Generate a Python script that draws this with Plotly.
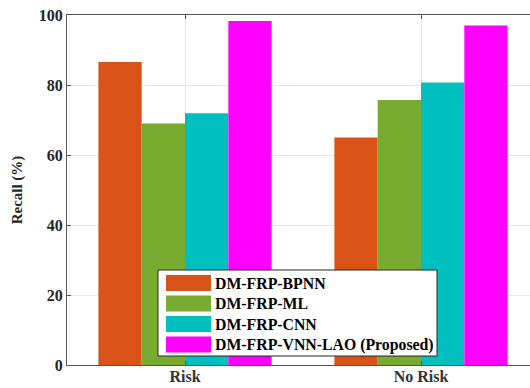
import plotly.graph_objects as go

categories = ["Risk", "No Risk"]
series_names = ["DM-FRP-BPNN", "DM-FRP-ML", "DM-FRP-CNN", "DM-FRP-VNN-LAO (Proposed)"]
bpnn = [86.6, 65.0]
ml = [69.0, 75.7]
cnn = [71.9, 80.7]
proposed = [98.3, 97.0]
y_ticks = [0, 20, 40, 60, 80, 100]

colors = ["#D95319", "#77AC30", "#00BFBF", "#FF00FF"]
series_values = [bpnn, ml, cnn, proposed]

W, H = 530, 388
ML_, MR_, MT_, MB_ = 67, 0, 15, 23
PW, PH = W - ML_ - MR_, H - MT_ - MB_
FONT = "Liberation Serif"
TXT = "#262626"
AXC = "#555555"

def px_x(x):
    return (x - ML_) / PW

def px_y(y):
    return (H - MB_ - y) / PH

xpos = list(range(len(categories)))

fig = go.Figure()
for name, vals, c in zip(series_names, series_values, colors):
    fig.add_trace(go.Bar(x=xpos, y=vals, name=name, marker=dict(color=c, line=dict(width=0)),
                         showlegend=False))

# manual legend with wide swatches
shapes = [dict(type="rect", xref="paper", yref="paper",
               x0=px_x(158), x1=px_x(437), y0=px_y(356), y1=px_y(270),
               fillcolor="white", line=dict(color="#262626", width=1), layer="above")]
annotations = []
row_top = 275
pitch = 20.5
for i, (name, c) in enumerate(zip(series_names, colors)):
    t = row_top + i * pitch
    shapes.append(dict(type="rect", xref="paper", yref="paper",
                       x0=px_x(166), x1=px_x(211), y0=px_y(t + 16), y1=px_y(t),
                       fillcolor=c, line=dict(width=0), layer="above"))
    annotations.append(dict(xref="paper", yref="paper", x=px_x(213), y=px_y(t + 8),
                            text="<b>" + name + "</b>", showarrow=False, xanchor="left",
                            yanchor="middle", font=dict(family=FONT, size=15.8, color="black")))

fig.update_layout(
    width=W, height=H,
    margin=dict(l=ML_, r=MR_, t=MT_, b=MB_, autoexpand=False),
    paper_bgcolor="white", plot_bgcolor="white",
    barmode="group", bargap=0.266, bargroupgap=0,
    shapes=shapes, annotations=annotations,
    font=dict(family=FONT, color=TXT),
    hovermode=False,
)
fig.update_xaxes(
    range=[-0.5, -0.5 + PW / 236.0],
    tickvals=xpos, ticktext=["<b>" + c + "</b>" for c in categories],
    tickfont=dict(family=FONT, size=16, color="#333333"),
    ticklabelstandoff=-3,
    showgrid=True, gridcolor="#e6e6e6", gridwidth=1,
    showline=True, linecolor=AXC, linewidth=1, mirror="ticks",
    ticks="inside", ticklen=4, tickcolor=AXC, zeroline=False,
)
fig.update_yaxes(
    range=[0, 100], tickvals=y_ticks, ticktext=["<b>%d</b>" % v for v in y_ticks],
    tickfont=dict(family=FONT, size=16, color=TXT),
    title=dict(text="<b>Recall (%)</b>", font=dict(family=FONT, size=15, color=TXT), standoff=12),
    showgrid=True, gridcolor="#e6e6e6", gridwidth=1,
    showline=True, linecolor=AXC, linewidth=1, mirror=False,
    ticks="inside", ticklen=4, tickcolor=AXC, zeroline=False,
)

fig.write_html("out.html", config={"displayModeBar": False, "staticPlot": True},
               post_script="document.body.style.margin='0';document.body.style.overflow='hidden';")
